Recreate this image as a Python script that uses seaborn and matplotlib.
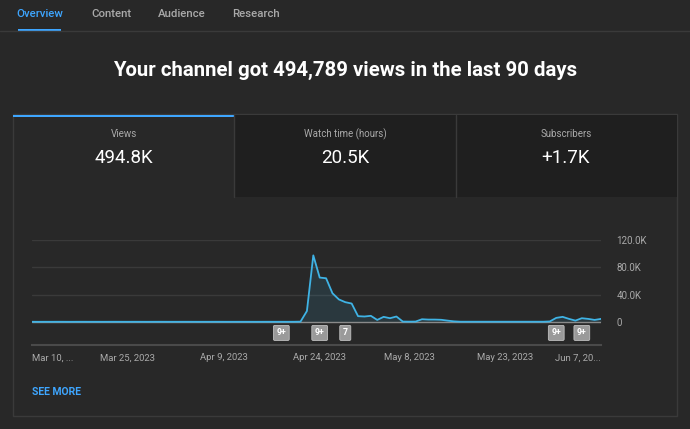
"""Recreation of the YouTube Studio channel overview card (views over last 90 days)."""

import pandas as pd
import seaborn as sns
import matplotlib.pyplot as plt
from matplotlib.patches import Rectangle

W, H = 690, 429

## daily views, Mar 10 2023 -> Jun 7 2023 (90 days)
start_date = "2023-03-10"
daily_views = [
    300, 250, 300, 280, 320, 300, 260, 300, 310, 290,
    300, 280, 300, 320, 300, 290, 310, 300, 280, 300,
    320, 300, 290, 300, 310, 300, 280, 300, 300, 320,
    300, 290, 300, 310, 300, 280, 300, 320, 300, 310,
    300, 320, 500, 16000, 97500, 65000, 64000, 42000, 33000, 29000,
    27000, 8500, 8000, 9000, 3000, 7500, 5500, 8000, 600, 500,
    600, 4000, 3500, 3500, 3200, 2000, 900, 400, 400, 400,
    400, 400, 400, 400, 400, 400, 400, 400, 400, 400,
    400, 800, 6000, 7500, 4500, 2000, 5500, 4500, 3000, 4500,
]

tick_dates = ["2023-03-10", "2023-03-25", "2023-04-09", "2023-04-24",
              "2023-05-08", "2023-05-23", "2023-06-07"]
tick_labels = ["Mar 10, ...", "Mar 25, 2023", "Apr 9, 2023", "Apr 24, 2023",
               "May 8, 2023", "May 23, 2023", "Jun 7, 20..."]
y_ticks = [0, 40000, 80000, 120000]
y_tick_labels = ["0", "40.0K", "80.0K", "120.0K"]

## petites étiquettes grises sous la courbe (vidéos publiées)
marker_dates = ["2023-04-18", "2023-04-24", "2023-04-28", "2023-05-31", "2023-06-04"]
marker_labels = ["9+", "9+", "7", "9+", "9+"]

tabs = ["Overview", "Content", "Audience", "Research"]
card_titles = ["Views", "Watch time (hours)", "Subscribers"]
card_values = ["494.8K", "20.5K", "+1.7K"]

BG = "#282828"
DARK = "#1f1f1f"
BORDER = "#3a3a3a"
GREY = "#aaaaaa"
BLUE = "#3ea6ff"
LINE = "#3fb3e5"


def fx(x):
    return x / W


def fy(y):
    return 1 - y / H


def main():
    sns.set_theme(style="dark", rc={"figure.facecolor": BG, "axes.facecolor": BG})
    plt.rcParams["font.family"] = ["Roboto", "DejaVu Sans"]

    df = pd.DataFrame({"date": pd.date_range(start_date, periods=len(daily_views), freq="D"),
                       "views": daily_views})

    fig = plt.figure(figsize=(W / 100, H / 100), dpi=100)

    # barre d'onglets en haut
    fig.add_artist(plt.Line2D([0, 1], [fy(31), fy(31)], color=BORDER, lw=1))
    tab_x = [40, 111, 182, 256]
    for i, (t, x) in enumerate(zip(tabs, tab_x)):
        fig.text(fx(x), fy(14), t, ha="center", va="center", fontsize=8.2,
                 color=BLUE if i == 0 else GREY, weight="medium")
    fig.add_artist(Rectangle((fx(18), fy(31)), fx(43), 2.5 / H, transform=fig.transFigure,
                             color=BLUE, lw=0))

    fig.text(0.5, fy(70), "Your channel got 494,789 views in the last 90 days",
             ha="center", va="center", fontsize=14.7, weight="bold", color="white")

    # la carte (zorder négatif pour rester derrière le graphique)
    fig.add_artist(Rectangle((fx(13), fy(416)), fx(664), (416 - 114) / H, zorder=-2,
                             transform=fig.transFigure, facecolor=BG, edgecolor=BORDER, lw=1))
    fig.add_artist(Rectangle((fx(234), fy(197)), fx(443), (197 - 115) / H, zorder=-1,
                             transform=fig.transFigure, facecolor=DARK, edgecolor="none"))
    fig.add_artist(plt.Line2D([fx(234), fx(234)], [fy(197), fy(115)], color=BORDER, lw=1))
    fig.add_artist(plt.Line2D([fx(456), fx(456)], [fy(197), fy(115)], color=BORDER, lw=1))
    fig.add_artist(Rectangle((fx(13), fy(117)), fx(221), 2.5 / H, transform=fig.transFigure,
                             color=BLUE, lw=0))
    for cx, title, value in zip([124, 345, 566], card_titles, card_values):
        fig.text(fx(cx), fy(134), title, ha="center", va="center", fontsize=7, color=GREY)
        fig.text(fx(cx), fy(158), value, ha="center", va="center", fontsize=13.5, color="white")

    fig.text(fx(32), fy(392), "SEE MORE", ha="left", va="center", fontsize=7.5,
             color=BLUE, weight="bold")

    # le graphique
    ax = fig.add_axes([fx(32), fy(345), fx(601 - 32), (345 - 240) / H])
    ax.set_zorder(5)
    ax.set_facecolor("none")
    ax.fill_between(df["date"], df["views"], 0, color=LINE, alpha=0.12, lw=0)
    ax.axhline(0, color="#8a8a8a", lw=1, zorder=1)
    sns.lineplot(data=df, x="date", y="views", ax=ax, color=LINE, lw=1.3, zorder=3)

    ymin = -33700
    ax.set_ylim(ymin, 120000)
    ax.set_xlim(df["date"].iloc[0], df["date"].iloc[-1])

    ax.yaxis.tick_right()
    ax.set_yticks(y_ticks)
    ax.set_yticklabels(y_tick_labels)
    ax.tick_params(axis="y", length=0, pad=11, labelsize=7, labelcolor=GREY)
    for g in y_ticks[1:]:
        ax.axhline(g, color=BORDER, lw=1, zorder=0)
    ax.grid(False)

    ax.set_xticks(pd.to_datetime(tick_dates))
    ax.set_xticklabels(tick_labels)
    ax.tick_params(axis="x", direction="in", length=3, color="#555555", pad=6,
                   labelsize=6.8, labelcolor=GREY)
    labs = ax.get_xticklabels()
    labs[0].set_ha("left")
    labs[-1].set_ha("right")

    for side in ["top", "left", "right"]:
        ax.spines[side].set_visible(False)
    ax.spines["bottom"].set_color("#4a4a4a")
    ax.spines["bottom"].set_linewidth(1.5)
    ax.set_xlabel("")
    ax.set_ylabel("")

    for d, lab in zip(pd.to_datetime(marker_dates), marker_labels):
        ax.text(d, -16000, lab, ha="center", va="center", fontsize=6.2, weight="bold",
                color="white",
                bbox=dict(boxstyle="round,pad=0.35,rounding_size=0.15", fc="#9a9a9a",
                          ec="#c0c0c0", lw=0.6))

    fig.savefig("out.png", dpi=100, facecolor=BG)


if __name__ == '__main__':
    main()
